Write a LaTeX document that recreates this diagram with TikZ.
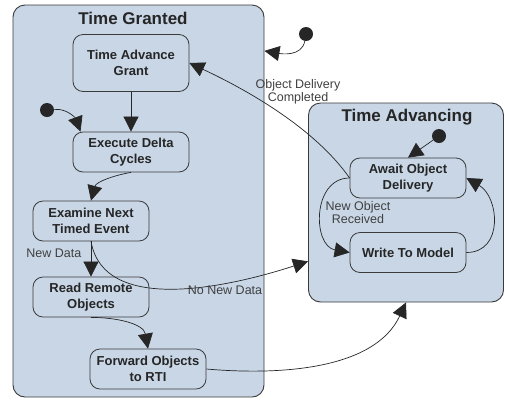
\documentclass[tikz,border=0pt]{standalone}
\usepackage{fontspec}
\setmainfont{Liberation Sans}
\usetikzlibrary{arrows.meta}
\definecolor{stFill}{RGB}{200,214,230}
\definecolor{stLine}{RGB}{58,58,58}
\begin{document}
\begin{tikzpicture}[x=1pt,y=-1pt,
   grp/.style={draw=stLine,fill=stFill,rounded corners=12pt,line width=0.9pt,inner sep=0pt},
   ttl/.style={font=\bfseries\fontsize{17}{20}\selectfont,text=black!85},
   st/.style={draw=stLine,fill=stFill,rounded corners=10pt,minimum width=116pt,minimum height=40pt,
     align=center,inner sep=2pt,line width=0.8pt,font=\bfseries\fontsize{13}{15.5}\selectfont,text=black!85},
   ini/.style={circle,fill=black!85,minimum size=14pt,inner sep=0pt},
   lbl/.style={font=\fontsize{12.5}{15}\selectfont,text=black!75,align=center},
   e/.style={-{Triangle[length=15pt,width=15pt]},line width=0.7pt,draw=black!85}]
\useasboundingbox (0,0) rectangle (505,400);
%% ---- the two super states ----
\node[grp,minimum width=251pt,minimum height=392pt] (granted) at (138.5,201) {};
\node[grp,minimum width=195pt,minimum height=199pt] (advancing) at (406,202.5) {};
\node[ttl] (tGranted) at (133,18) {Time Granted};
\node[ttl] (tAdvancing) at (407,117) {Time Advancing};
%% ---- states in Time Granted ----
\node[st,minimum height=57pt] (tag) at (131,63) {Time Advance\\Grant};
\node[st] (edc) at (131,152) {Execute Delta\\Cycles};
\node[st] (ent) at (91,221) {Examine Next\\Timed Event};
\node[st] (rro) at (91,297) {Read Remote\\Objects};
\node[st] (fwd) at (148,369) {Forward Objects\\to RTI};
%% ---- states in Time Advancing ----
\node[st] (aod) at (408,178) {Await Object\\Delivery};
\node[st] (wtm) at (408,252.5) {Write To Model};
%% ---- initial states ----
\node[ini] (i1) at (47,110) {};
\node[ini] (i2) at (306,34) {};
\node[ini] (i3) at (439,136) {};
%% ---- transitions ----
\draw[e] (i1) to[out=5,in=110] (edc.158);
\draw[e] (tag) -- (edc);
\draw[e] (edc.south) to[out=190,in=75] (ent.north);
\draw[e] (ent) -- node[lbl,left=6pt,pos=.35] {New Data} (rro);
\draw[e] (ent.south) to[out=-80,in=198,looseness=.9] (advancing.211);
\node[lbl] (lNoData) at (225,290) {No New Data};
\draw[e] (rro.south) to[out=0,in=100] (fwd.north);
\draw[e] (fwd.east) to[out=-5,in=245,looseness=.9] (advancing.south);
\draw[e] (i2) to[out=-100,in=-10] (granted.50);
\draw[e] (i3) -- (aod.north);
\draw[e] (aod.west) to[out=125,in=-25,looseness=.8] (tag.east);
\node[lbl] (lDelivery) at (298,92) {Object Delivery\\[-2pt]Completed};
\draw[e] (aod.west) to[out=180,in=170,looseness=1.3] (wtm.west);
\node[lbl] (lReceived) at (358,213) {New Object\\[-2pt]Received};
\draw[e] (wtm.east) to[out=0,in=-30,looseness=1.3] (aod.east);
\end{tikzpicture}
\end{document}
